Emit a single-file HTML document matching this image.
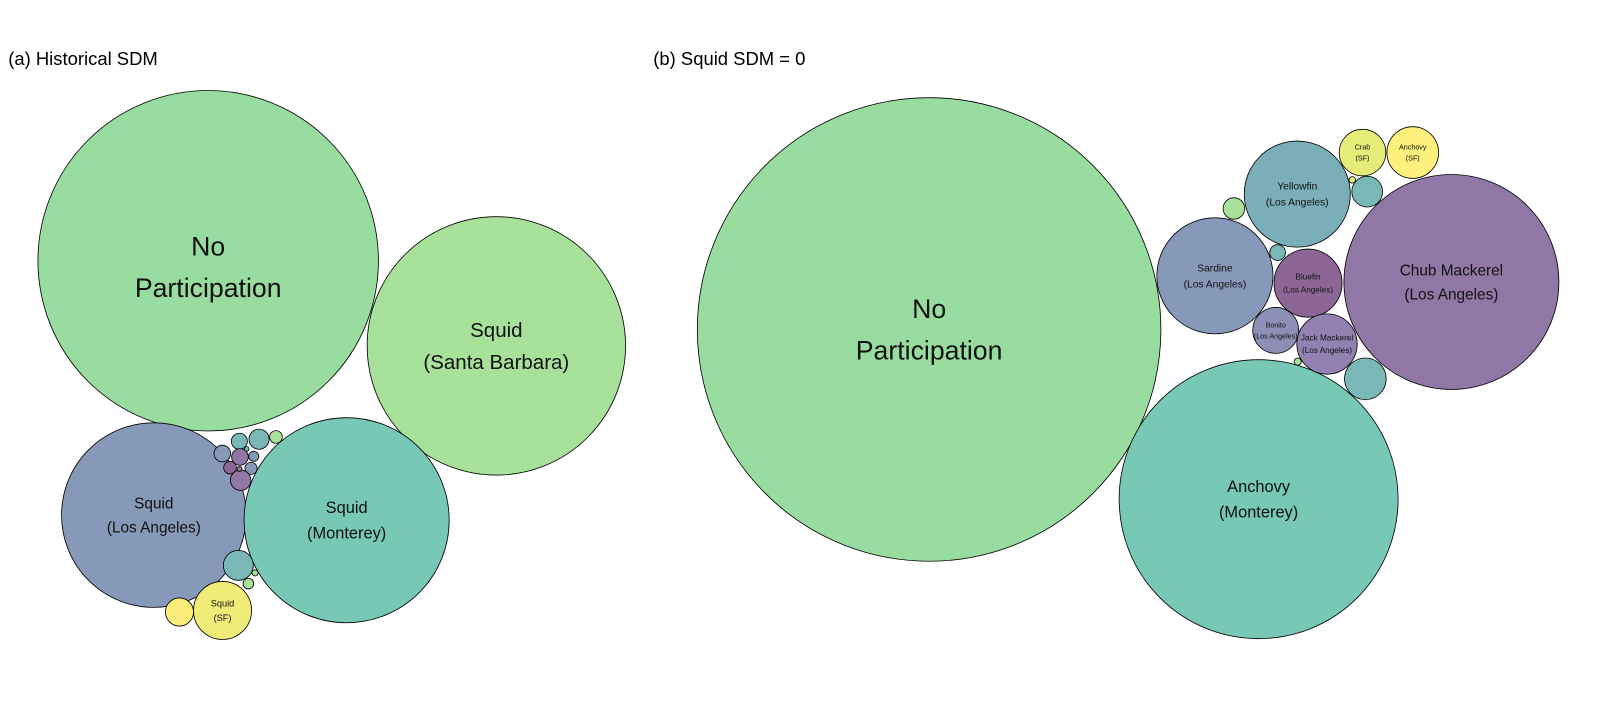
<!DOCTYPE html>
<html><head><meta charset="utf-8"><style>
html,body{margin:0;padding:0;background:#fff;}
svg{display:block;font-family:"Liberation Sans",Arial,sans-serif;}
</style></head><body>
<svg id="chart" width="1608" height="702" viewBox="0 0 1568 684" xmlns="http://www.w3.org/2000/svg">
<text x="8" y="63" font-size="18">(a) Historical SDM</text>
<text x="637" y="63" font-size="18">(b) Squid SDM = 0</text>
<g id="pa"></g>
<g id="pb"></g>
</svg>
<script>
// Panel (a) data
const aLabels = ["No|Participation","Squid|(Santa Barbara)","Squid|(Los Angeles)","Squid|(Monterey)","Squid|(SF)","","","","","","","","","","","","","","",""];
const aValues = [27556,15876,8100,10000,801,188,61,96,38,66,66,24,38,35,100,6,5,213,9,27];
const aColors = ["#98dca0","#a8e19a","#8799b8","#77c8b4","#f0ec78","#fbee78","#7ab8b8","#7ab8b8","#a8e19a","#8799b8","#9177a6","#8799b8","#8c6795","#8799b8","#9177a6","#9177a6","#7ab8b8","#7ab8b8","#a8e19a","#a8e19a"];
const aFont = [26,20,15,16,9,0,0,0,0,0,0,0,0,0,0,0,0,0,0,0];
const aLabelDy = [6,0,0,0,0,0,0,0,0,0,0,0,0,0,0,0,0,0,0,0];
const aCx = [203,484,150,338,217,175,233.4,252.6,269.1,216.8,234,247.4,224.3,244.8,234.7,233.6,240.5,232.4,248.7,242.2];
const aCy = [254,337,502,507,595,596.5,430,428,425.8,442,445.3,444.7,455.7,456.4,468,457,437.5,551,558.4,568.8];
// Panel (b) data
const bLabels = ["No|Participation","Anchovy|(Monterey)","Chub Mackerel|(Los Angeles)","Yellowfin|(Los Angeles)","Sardine|(Los Angeles)","Bluefin|(Los Angeles)","Bonito|(Los Angeles)","Jack Mackerel|(Los Angeles)","Crab|(SF)","Anchovy|(SF)","","","","","",""];
const bValues = [51076,18496,10983,2673,3204,1102,502,864,515,635,225,412,110,59,10,12];
const bColors = ["#98dca0","#77c8b4","#9177a6","#7aaeb8","#8799b8","#8c6795","#8d8fb6","#9182b2","#e6ec78","#fdf07c","#7ab8b8","#7ab8b8","#a8e19a","#7ab8b8","#e6ec78","#a8e19a"];
const bFont = [26,16,15,10,10,8,7,8,7,7,0,0,0,0,0,0];
const bLabelDy = [0,0,0,0,0,0,0,0,0,0,0,0,0,0,0,0];
const bCx = [906,1227.3,1415.3,1265,1184.7,1275.5,1244,1294,1328.6,1377.6,1333.2,1331.4,1203.2,1245.8,1318.6,1265.4];
const bCy = [321,486.5,274.7,189,268.7,275.8,321.9,335.2,148.5,148.5,186.6,369.1,203,246,175.1,352.3];

const NS="http://www.w3.org/2000/svg";
function rScale(v){return Math.sqrt(v);}
function draw(gid,labels,values,colors,fonts,dys,cx,cy){
  const g=document.getElementById(gid);
  for(let i=0;i<values.length;i++){
    const c=document.createElementNS(NS,"circle");
    c.setAttribute("cx",cx[i]);c.setAttribute("cy",cy[i]);c.setAttribute("r",rScale(values[i]));
    c.setAttribute("fill",colors[i]);c.setAttribute("stroke","#000");c.setAttribute("stroke-width","0.8");
    
    
    g.appendChild(c);
    if(labels[i]){
      const parts=labels[i].split("|");const fs=fonts[i];
      const t=document.createElementNS(NS,"text");
      t.setAttribute("x",cx[i]);t.setAttribute("text-anchor","middle");t.setAttribute("font-size",fs);
      t.setAttribute("fill","#111");
      
      
      const lh=fs*1.55;
      parts.forEach((p,k)=>{const ts=document.createElementNS(NS,"tspan");ts.setAttribute("x",cx[i]);
        ts.setAttribute("y",cy[i]+dys[i]+(k-(parts.length-1)/2)*lh+fs*0.35);ts.textContent=p;t.appendChild(ts);});
      g.appendChild(t);
    }
  }
}
draw("pa",aLabels,aValues,aColors,aFont,aLabelDy,aCx,aCy);
draw("pb",bLabels,bValues,bColors,bFont,bLabelDy,bCx,bCy);
</script>
</body></html>
